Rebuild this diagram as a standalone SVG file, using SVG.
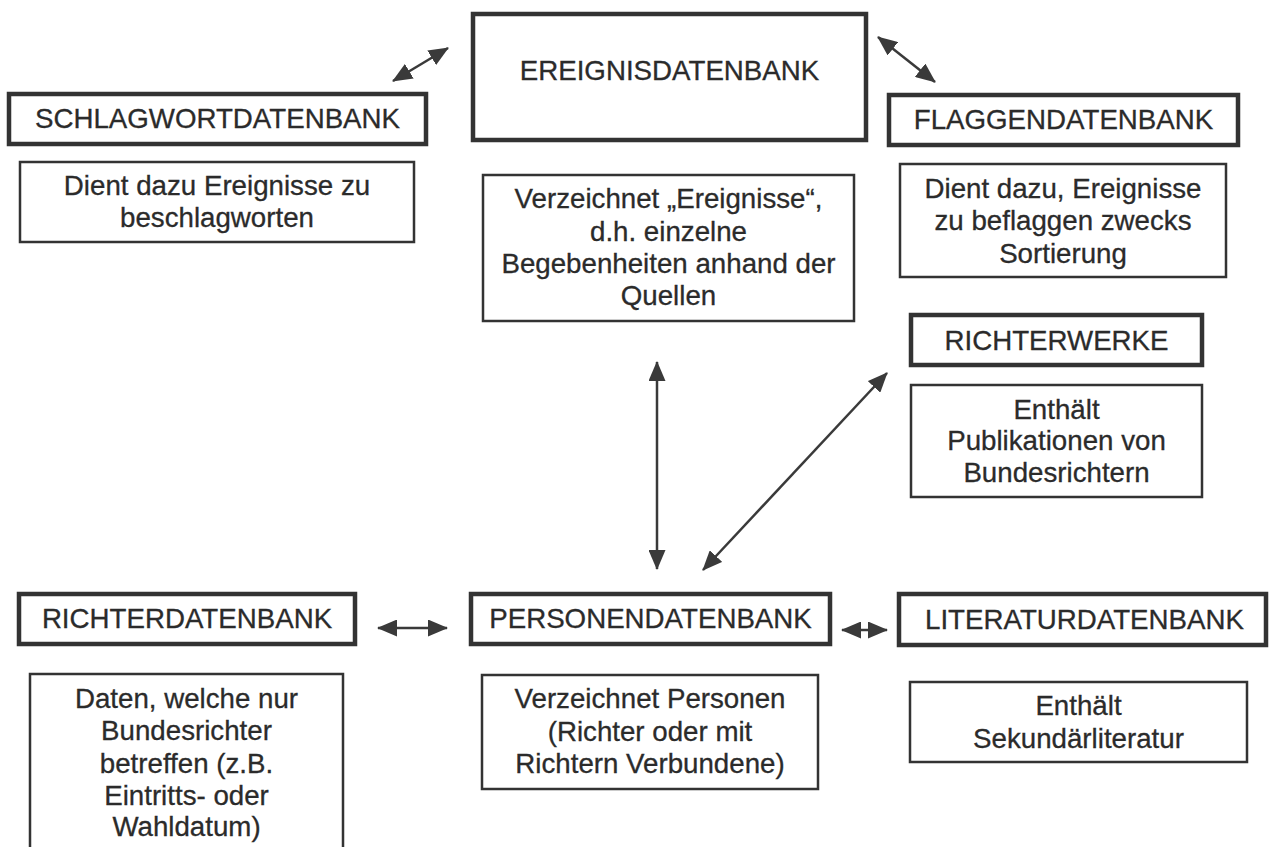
<svg xmlns="http://www.w3.org/2000/svg" width="1270" height="847" viewBox="0 0 1270 847">
<defs>
<style>
.hdr{fill:#fff;stroke:#333;stroke-width:4.5}
.desc{fill:#fff;stroke:#333;stroke-width:2.5}
text{font-family:"Liberation Sans",Arial,sans-serif;font-size:27.7px;fill:#2b2b2b;text-anchor:middle;stroke:#2b2b2b;stroke-width:0.3}
.conn line{stroke:#3a3a3a;stroke-width:2.5;marker-start:url(#ah);marker-end:url(#ah)}
</style>
<marker id="ah" markerUnits="userSpaceOnUse" markerWidth="20" markerHeight="17" refX="19" refY="8.5" orient="auto-start-reverse">
<path d="M0,0 L20,8.5 L0,17 Z" fill="#3a3a3a"/>
</marker>
</defs>
<rect width="1270" height="847" fill="#fff"/>

<g id="schlagwort">
<rect class="hdr" x="9" y="94" width="417" height="50"/>
<text x="217.5" y="128">SCHLAGWORTDATENBANK</text>
<rect class="desc" x="20" y="162" width="394" height="80"/>
<text x="217" y="195">Dient dazu Ereignisse zu</text>
<text x="217" y="227">beschlagworten</text>
</g>

<g id="ereignis">
<rect class="hdr" x="473" y="14" width="393" height="126"/>
<text x="669.5" y="80">EREIGNISDATENBANK</text>
<rect class="desc" x="483" y="175" width="371" height="146"/>
<text x="668.5" y="208">Verzeichnet „Ereignisse“,</text>
<text x="668.5" y="241">d.h. einzelne</text>
<text x="668.5" y="273">Begebenheiten anhand der</text>
<text x="668.5" y="305">Quellen</text>
</g>

<g id="flaggen">
<rect class="hdr" x="889" y="95" width="349" height="50"/>
<text x="1063.5" y="129">FLAGGENDATENBANK</text>
<rect class="desc" x="900" y="164" width="326" height="113"/>
<text x="1063" y="198">Dient dazu, Ereignisse</text>
<text x="1063" y="230">zu beflaggen zwecks</text>
<text x="1063" y="263">Sortierung</text>
</g>

<g id="richterwerke">
<rect class="hdr" x="911" y="315" width="291" height="50"/>
<text x="1056.5" y="350">RICHTERWERKE</text>
<rect class="desc" x="911" y="385" width="291" height="112"/>
<text x="1056.5" y="419">Enthält</text>
<text x="1056.5" y="450">Publikationen von</text>
<text x="1056.5" y="482">Bundesrichtern</text>
</g>

<g id="richterdatenbank">
<rect class="hdr" x="19" y="594" width="336" height="50"/>
<text x="187" y="628">RICHTERDATENBANK</text>
<rect class="desc" x="30" y="674" width="313" height="190"/>
<text x="186.5" y="708">Daten, welche nur</text>
<text x="186.5" y="740">Bundesrichter</text>
<text x="186.5" y="773">betreffen (z.B.</text>
<text x="186.5" y="805">Eintritts- oder</text>
<text x="186.5" y="836">Wahldatum)</text>
</g>

<g id="personen">
<rect class="hdr" x="471" y="594" width="359" height="50"/>
<text x="650.5" y="628">PERSONENDATENBANK</text>
<rect class="desc" x="482" y="675" width="336" height="114"/>
<text x="650" y="708">Verzeichnet Personen</text>
<text x="650" y="741">(Richter oder mit</text>
<text x="650" y="773">Richtern Verbundene)</text>
</g>

<g id="literatur">
<rect class="hdr" x="899" y="594" width="367" height="51"/>
<text x="1084.5" y="629">LITERATURDATENBANK</text>
<rect class="desc" x="910" y="682" width="337" height="80"/>
<text x="1078.5" y="715">Enthält</text>
<text x="1078.5" y="748">Sekundärliteratur</text>
</g>

<g id="connectors" class="conn">
<line x1="393" y1="81" x2="448" y2="48"/>
<line x1="878" y1="37" x2="935" y2="82"/>
<line x1="657" y1="362" x2="657" y2="569"/>
<line x1="887" y1="373" x2="703" y2="570"/>
<line x1="378" y1="628" x2="447" y2="628"/>
<line x1="842" y1="630" x2="887" y2="630"/>
</g>
</svg>
